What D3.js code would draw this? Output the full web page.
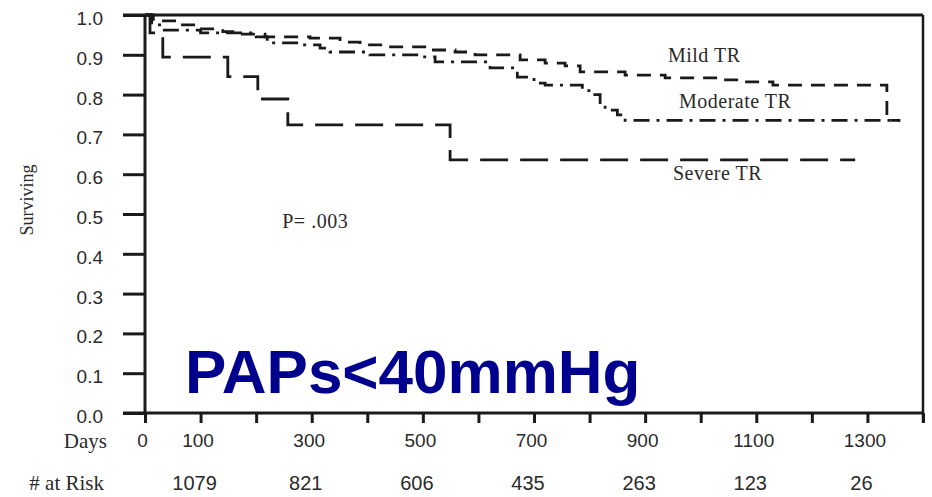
<!DOCTYPE html>
<html>
<head>
<meta charset="utf-8">
<script src="https://cdn.jsdelivr.net/npm/d3@7"></script>
<style>
    body { margin: 0; background: #fff; }
    svg { display: block; }
</style>
</head>
<body>
<div id="chart"></div>
<script>
// Kaplan-Meier steps: [day, fraction surviving]
let mildTR = [[0, 1.0], [15, 0.985], [60, 0.975], [95, 0.965], [140, 0.958], [175, 0.952], [216, 0.945],
    [297, 0.942], [351, 0.932], [387, 0.925], [432, 0.92], [513, 0.912], [558, 0.907], [594, 0.9],
    [675, 0.887], [720, 0.879], [756, 0.872], [783, 0.857], [864, 0.849], [936, 0.842], [1035, 0.837],
    [1071, 0.832], [1130, 0.824], [1335, 0.735], [1359, 0.735]];
let moderateTR = [[0, 1.0], [12, 0.975], [30, 0.962], [100, 0.955], [200, 0.945], [220, 0.93], [279, 0.925],
    [315, 0.917], [333, 0.907], [405, 0.9], [495, 0.895], [522, 0.882], [621, 0.867], [670, 0.844],
    [700, 0.829], [720, 0.824], [787, 0.81], [806, 0.8], [819, 0.78], [828, 0.761], [850, 0.749],
    [864, 0.735], [1359, 0.735]];
let severeTR = [[0, 1.0], [9, 0.955], [32, 0.894], [149, 0.845], [203, 0.789], [257, 0.724],
    [549, 0.636], [1278, 0.636]];

let yTicks = [0, 0.1, 0.2, 0.3, 0.4, 0.5, 0.6, 0.7, 0.8, 0.9, 1.0];
let xTicks = [0, 100, 200, 300, 400, 500, 600, 700, 800, 900, 1000, 1100, 1200, 1300, 1400];
let xLabels = [0, 100, 300, 500, 700, 900, 1100, 1300];
let riskDays = [100, 300, 500, 700, 900, 1100, 1300];
let riskCounts = [1079, 821, 606, 435, 263, 123, 26];

let width = 932, height = 497;
let ink = "#1a1a1a";

let svg = d3.select("#chart").append("svg")
    .attr("width", width)
    .attr("height", height);

let x = d3.scaleLinear().domain([0, 1400]).range([145, 923]);
let y = d3.scaleLinear().domain([0, 1]).range([413, 15]);

// y axis
let yAxis = d3.axisLeft(y)
    .tickValues(yTicks)
    .tickSize(22)
    .tickPadding(20)
    .tickFormat(d3.format(".1f"));
let yg = svg.append("g")
    .attr("transform", `translate(${x(0)},0)`)
    .call(yAxis);
yg.select(".domain").remove();
yg.selectAll(".tick line").attr("stroke", ink).attr("stroke-width", 3);
yg.selectAll(".tick text")
    .attr("dy", "0.5em")
    .style("font-family", "Liberation Sans, Arial, sans-serif")
    .style("font-size", "19px")
    .attr("fill", "#2a2a2a");

// x axis
let xAxis = d3.axisBottom(x)
    .tickValues(xTicks)
    .tickSize(10)
    .tickPadding(11)
    .tickFormat(d => xLabels.includes(d) ? d : "");
let xg = svg.append("g")
    .attr("transform", `translate(0,${y(0)})`)
    .call(xAxis);
xg.select(".domain").remove();
xg.selectAll(".tick line").attr("stroke", ink).attr("stroke-width", 3);
xg.selectAll(".tick text")
    .attr("dx", -3)
    .style("font-family", "Liberation Sans, Arial, sans-serif")
    .style("font-size", "19px")
    .attr("fill", "#2a2a2a");

// frame
let frame = svg.append("g").attr("stroke", ink).attr("fill", "none");
frame.append("line")
    .attr("x1", x(0) - 22).attr("x2", x(1400))
    .attr("y1", y(0)).attr("y2", y(0))
    .attr("stroke-width", 3);
frame.append("line")
    .attr("x1", x(0) - 22).attr("x2", x(1400))
    .attr("y1", y(1)).attr("y2", y(1))
    .attr("stroke-width", 3);
frame.append("line")
    .attr("x1", x(0)).attr("x2", x(0))
    .attr("y1", y(1)).attr("y2", y(0))
    .attr("stroke-width", 3);
frame.append("line")
    .attr("x1", x(1400)).attr("x2", x(1400))
    .attr("y1", y(1)).attr("y2", y(0) + 10)
    .attr("stroke-width", 2.5);

// curves
let line = d3.line()
    .x(d => x(d[0]))
    .y(d => y(d[1]))
    .curve(d3.curveStepAfter);

let curves = [
    {data: mildTR, dash: "14,9"},
    {data: moderateTR, dash: "16,7,3,7"},
    {data: severeTR, dash: "28,12"}
];
svg.append("g").selectAll("path")
    .data(curves)
    .enter().append("path")
    .attr("d", d => line(d.data))
    .attr("fill", "none")
    .attr("stroke", ink)
    .attr("stroke-width", 2.8)
    .attr("stroke-dasharray", d => d.dash);

// labels
let serif = "Liberation Serif, Times New Roman, serif";
let notes = [
    {text: "Mild TR", day: 941, s: 0.882},
    {text: "Moderate TR", day: 961, s: 0.766},
    {text: "Severe TR", day: 950, s: 0.585},
    {text: "P= .003", day: 247, s: 0.465}
];
svg.append("g").selectAll("text")
    .data(notes)
    .enter().append("text")
    .attr("x", d => x(d.day))
    .attr("y", d => y(d.s))
    .text(d => d.text)
    .style("font-family", serif)
    .style("font-size", "20px")
    .style("letter-spacing", "0.5px")
    .attr("fill", "#2a2a2a");

svg.append("text")
    .attr("transform", `translate(33,${y(0.535)}) rotate(-90)`)
    .attr("text-anchor", "middle")
    .text("Surviving")
    .style("font-family", serif)
    .style("font-size", "18px")
    .attr("fill", "#2a2a2a");

svg.append("text")
    .attr("x", 107).attr("y", 448)
    .attr("text-anchor", "end")
    .text("Days")
    .style("font-family", serif)
    .style("font-size", "21px")
    .attr("fill", "#2a2a2a");

svg.append("text")
    .attr("x", 104).attr("y", 490)
    .attr("text-anchor", "end")
    .text("# at Risk")
    .style("font-family", serif)
    .style("font-size", "21px")
    .attr("fill", "#2a2a2a");

svg.append("g").selectAll("text")
    .data(riskDays)
    .enter().append("text")
    .attr("x", d => x(d) - 6)
    .attr("y", 490)
    .attr("text-anchor", "middle")
    .text((d, i) => riskCounts[i])
    .style("font-family", "Liberation Sans, Arial, sans-serif")
    .style("font-size", "20px")
    .attr("fill", "#2a2a2a");

// big title
svg.append("text")
    .attr("x", 185).attr("y", 393)
    .text("PAPs<40mmHg")
    .style("font-family", "Liberation Sans, Arial, sans-serif")
    .style("font-weight", "bold")
    .style("font-size", "62px")
    .attr("fill", "#00008f");
</script>
</body>
</html>
